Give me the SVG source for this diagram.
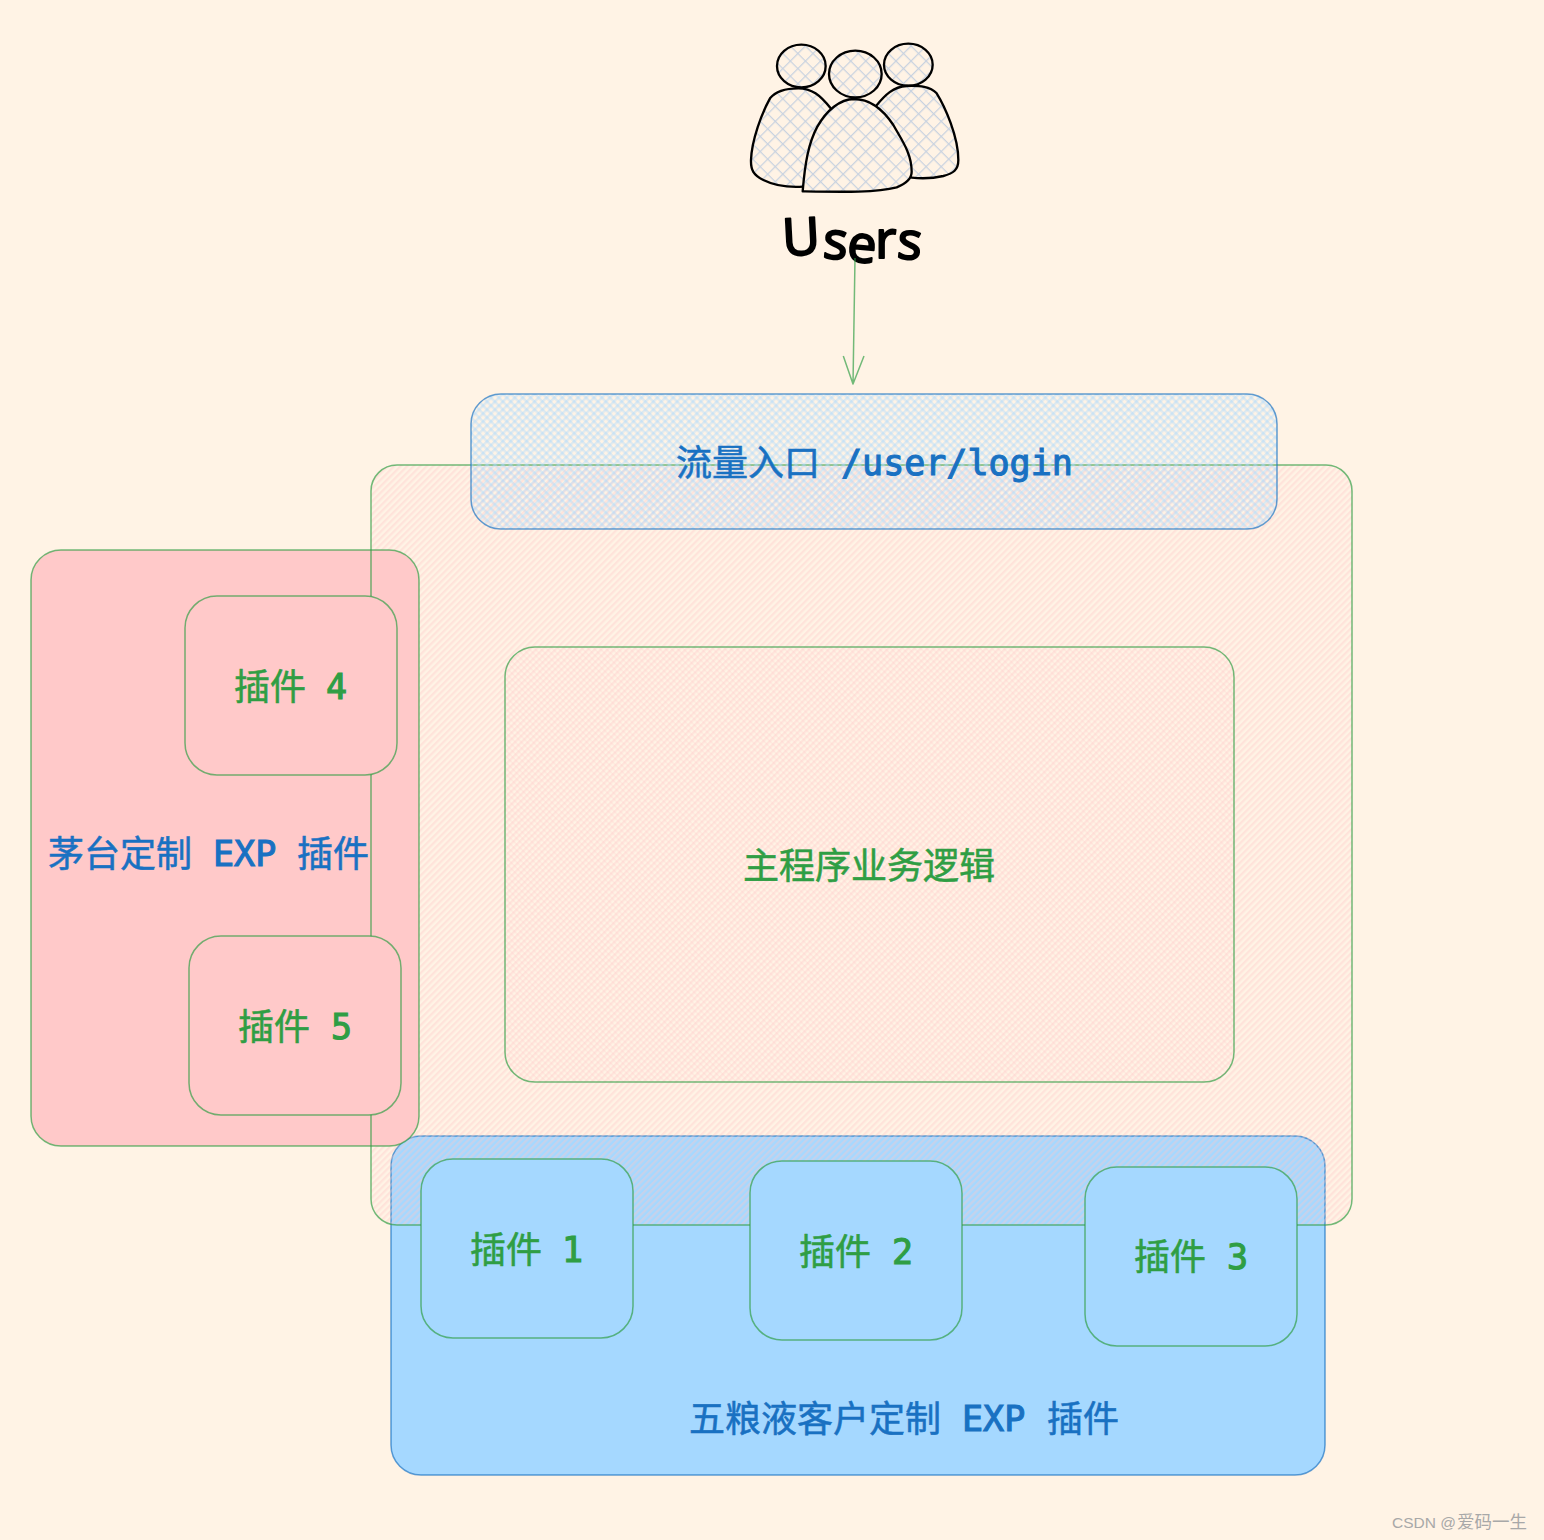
<svg xmlns="http://www.w3.org/2000/svg" width="1544" height="1540" viewBox="0 0 1544 1540">
<style>
.lbl{font-family:"Noto Sans CJK SC",sans-serif;font-size:36px;font-weight:400;stroke-width:.55px}
.lat{font-family:"DejaVu Sans Mono",monospace;font-size:35px;font-weight:400;stroke-width:1.1px}
.g{fill:#2f9e44;stroke:#2f9e44}
.b{fill:#1971c2;stroke:#1971c2}
.ge{stroke:#2f9e44;stroke-width:1.5;stroke-opacity:.68;fill:none}
.be{stroke:#1971c2;stroke-width:1.5;stroke-opacity:.68;fill:none}
.ink{stroke:#000;stroke-width:7;stroke-linecap:round;stroke-linejoin:round}
</style>
<defs>
<pattern id="hatchMain" width="4.6" height="4.6" patternUnits="userSpaceOnUse" patternTransform="rotate(-45)">
<rect width="4.6" height="2.3" fill="#ffc9c9" fill-opacity=".36"/>
</pattern>
<pattern id="hatchInner" width="4.2" height="4.2" patternUnits="userSpaceOnUse" patternTransform="rotate(45)">
<rect width="4.2" height="1.4" fill="#ffc9c9" fill-opacity=".26"/>
</pattern>
<pattern id="hatchEntry" width="5.6" height="5.6" patternUnits="userSpaceOnUse" patternTransform="rotate(45)">
<rect width="5.6" height="2.4" fill="#a5d8ff" fill-opacity=".38"/><rect width="2.4" height="5.6" fill="#a5d8ff" fill-opacity=".38"/>
</pattern>
<pattern id="hatchUser" width="32" height="32" patternUnits="userSpaceOnUse" patternTransform="rotate(45)">
<path d="M0 1H32M1 0V32" stroke="#c8d2e0" stroke-width="5.5" fill="none"/>
</pattern>
</defs>
<rect width="1544" height="1540" fill="#fff3e5"/>

<g id="node-custom-b">
<rect class="be" x="391" y="1136" width="934" height="339" rx="30" style="fill:#a5d8ff"/>
</g>
<g id="node-main-fill">
<rect x="371" y="465" width="981" height="760" rx="26" fill="url(#hatchMain)"/>
</g>
<g id="node-custom-a">
<rect class="ge" x="31" y="550" width="388" height="596" rx="30" style="fill:#ffc9c9"/>
</g>
<g id="node-main-outline">
<rect class="ge" x="371" y="465" width="981" height="760" rx="26"/>
</g>
<g id="node-logic">
<rect class="ge" x="505" y="647" width="729" height="435" rx="30" style="fill:url(#hatchInner)"/>
<text class="lbl g" x="743" y="879">主程序业务逻辑</text>
</g>
<g id="node-entry">
<rect class="be" x="471" y="394" width="806" height="135" rx="30" style="fill:url(#hatchEntry)"/>
<text class="lbl b" x="676" y="476">流量入口 <tspan class="lat" x="841" y="475">/user/login</tspan></text>
</g>
<text class="lbl b" x="48" y="867">茅台定制 <tspan class="lat" x="213" y="866">EXP</tspan><tspan x="297" y="867">插件</tspan></text>
<g id="node-plugin-4">
<rect class="ge" x="185" y="596" width="212" height="179" rx="32" style="fill:#ffc9c9"/>
<text class="lbl g" x="234" y="700">插件<tspan class="lat" x="326" y="699">4</tspan></text>
</g>
<g id="node-plugin-5">
<rect class="ge" x="189" y="936" width="212" height="179" rx="32" style="fill:#ffc9c9"/>
<text class="lbl g" x="238" y="1040">插件<tspan class="lat" x="331" y="1039">5</tspan></text>
</g>
<g id="node-plugin-1">
<rect class="ge" x="421" y="1159" width="212" height="179" rx="32" style="fill:#a5d8ff"/>
<text class="lbl g" x="470" y="1263">插件<tspan class="lat" x="562" y="1262">1</tspan></text>
</g>
<g id="node-plugin-2">
<rect class="ge" x="750" y="1161" width="212" height="179" rx="32" style="fill:#a5d8ff"/>
<text class="lbl g" x="799" y="1265">插件<tspan class="lat" x="892" y="1264">2</tspan></text>
</g>
<g id="node-plugin-3">
<rect class="ge" x="1085" y="1167" width="212" height="179" rx="32" style="fill:#a5d8ff"/>
<text class="lbl g" x="1134" y="1270">插件<tspan class="lat" x="1227" y="1269">3</tspan></text>
</g>
<text class="lbl b" x="689" y="1432">五粮液客户定制 <tspan class="lat" x="962" y="1431">EXP</tspan><tspan x="1047" y="1432">插件</tspan></text>

<g id="node-users">
<g transform="translate(730 30) scale(.33333)">
<path fill="url(#hatchUser)" d="M302 235C270 195 245 175 205 175C170 175 140 180 120 205C95 250 65 330 63 390C62 420 70 435 100 450C140 470 190 472 220 470Z"/>
<path class="ink" fill="none" d="M302 235C270 195 245 175 205 175C170 175 140 180 120 205C95 250 65 330 63 390C62 420 70 435 100 450C140 470 190 472 220 470"/>
<path fill="url(#hatchUser)" d="M438 228C465 195 490 170 530 168C570 167 600 168 620 190C645 230 685 320 685 390C685 420 670 430 640 438C610 445 575 446 545 443Z"/>
<path class="ink" fill="none" d="M438 228C465 195 490 170 530 168C570 167 600 168 620 190C645 230 685 320 685 390C685 420 670 430 640 438C610 445 575 446 545 443"/>
<path fill="#fff3e5" d="M218 484C225 400 235 340 262 290C290 240 330 208 372 207C420 207 460 240 490 285C515 330 545 370 545 425C545 445 530 460 500 472C440 488 340 486 218 484Z"/>
<path class="ink" fill="url(#hatchUser)" d="M218 484C225 400 235 340 262 290C290 240 330 208 372 207C420 207 460 240 490 285C515 330 545 370 545 425C545 445 530 460 500 472C440 488 340 486 218 484Z"/>
<ellipse class="ink" fill="url(#hatchUser)" cx="214" cy="108" rx="73" ry="64"/>
<ellipse class="ink" fill="url(#hatchUser)" cx="376" cy="132" rx="79" ry="70"/>
<ellipse class="ink" fill="url(#hatchUser)" cx="535" cy="104" rx="73" ry="63"/>
</g>
<text x="783 822 846 875 896" y="256 258 261 258 258" rotate="-3 4 5 0 5" font-family="'Noto Sans',sans-serif" font-size="52" fill="#000" stroke="#000" stroke-width="1.8" stroke-linejoin="round" stroke-linecap="round">Users</text>
</g>

<g id="connectors">
<path class="ge" d="M855 258L853 384M843.3 356L853 384L864 356" stroke-linejoin="round"/>
</g>
<text x="1392" y="1528" font-family="'Liberation Sans',sans-serif" font-size="15.5" fill="#a8a8a8">CSDN @<tspan x="1457" font-family="'Noto Sans CJK SC',sans-serif" font-size="17.5">爱码一生</tspan></text>
</svg>
